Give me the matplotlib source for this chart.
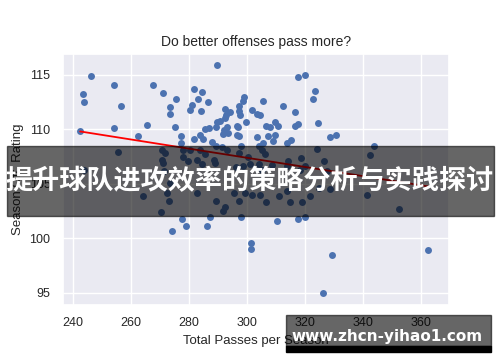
import numpy as np
import matplotlib
matplotlib.use("Agg")
import matplotlib.pyplot as plt
import seaborn as sns
from matplotlib.patches import Rectangle

# total passes per season vs offensive rating
passes = [242.4, 243.4, 243.9, 246.0, 254.2, 256.6, 254.0, 262.3, 265.3, 267.5,
          270.9, 273.2, 273.3, 275.3, 275.1, 277.3, 277.0, 281.5, 281.8, 280.2,
          280.8, 283.0, 284.4, 283.9, 286.6, 289.6, 283.7, 285.4, 286.8, 284.9,
          288.0, 289.1, 289.7, 289.3, 290.7, 292.3, 293.9, 292.5, 292.3, 292.1,
          293.0, 293.4, 291.8, 296.5, 296.9, 296.5, 297.1, 297.3, 297.3, 297.4,
          298.4, 298.7, 299.7, 297.9, 301.5, 303.3, 304.4, 305.4, 303.2, 304.0,
          305.4, 307.1, 306.4, 307.9, 309.5, 310.5, 309.6, 308.8, 312.3, 313.7,
          314.9, 316.6, 316.3, 317.6, 317.6, 320.0, 322.5, 323.3, 324.3, 328.5,
          330.6, 343.7, 324.1,
          255.3, 243.8, 270.7, 271.5, 270.7, 271.0, 271.4, 273.3, 272.4, 273.1,
          270.2, 264.1, 277.7, 277.7, 279.7, 280.2, 283.8, 285.3, 282.7, 284.4,
          288.4, 289.0, 291.3, 293.0, 297.0, 300.1, 305.1, 306.2, 298.5, 296.2,
          301.0, 303.9, 305.1, 308.5, 313.7, 313.9, 318.6, 318.3, 320.0, 326.5,
          327.5, 342.2, 282.7, 289.3, 291.8, 292.4, 295.3, 297.0, 299.3, 301.6,
          304.5, 306.6, 310.8, 313.7, 314.8, 318.9, 321.7, 328.6, 324.6, 341.3,
          352.2,
          274.0, 277.6, 279.0, 286.1, 287.2, 297.8, 310.2, 317.5, 320.0, 301.4,
          301.4, 329.1, 326.2, 362.2]
rating = [109.8, 113.2, 112.5, 114.9, 114.1, 112.1, 110.1, 109.4, 110.4, 114.1,
          113.3, 112.0, 111.4, 112.8, 110.2, 109.4, 108.7, 109.1, 113.7, 111.8,
          112.2, 112.8, 113.4, 111.7, 112.5, 115.9, 109.5, 110.0, 110.1, 109.1,
          108.8, 108.5, 110.7, 110.2, 110.8, 111.9, 111.6, 111.3, 111.0, 109.9,
          110.2, 109.7, 109.6, 110.3, 110.2, 109.5, 109.4, 112.1, 111.7, 111.3,
          112.6, 113.0, 110.7, 108.5, 111.8, 111.4, 111.3, 112.6, 109.3, 108.5,
          108.7, 109.4, 110.3, 110.2, 110.7, 110.3, 109.5, 108.9, 112.1, 108.7,
          109.0, 111.6, 110.3, 110.5, 114.8, 115.0, 112.8, 113.5, 110.6, 109.3,
          109.5, 108.5, 108.2,
          107.9, 106.3, 108.1, 107.8, 107.2, 106.9, 106.2, 105.1, 104.2, 103.4,
          102.4, 103.9, 108.1, 107.5, 107.1, 108.1, 108.1, 107.7, 107.2, 106.8,
          107.2, 106.9, 108.4, 108.1, 107.8, 107.5, 108.1, 107.7, 106.6, 106.5,
          106.8, 106.8, 106.3, 106.7, 106.6, 107.1, 107.4, 106.3, 106.6, 107.1,
          106.2, 107.6, 104.2, 103.4, 102.5, 102.9, 104.2, 103.4, 104.2, 104.0,
          104.0, 103.3, 103.9, 104.3, 103.3, 103.3, 103.9, 104.5, 104.6, 104.0,
          102.7,
          100.7, 101.8, 101.1, 101.1, 102.0, 102.0, 101.6, 101.8, 102.0, 99.6,
          99.0, 98.5, 95.0, 98.9]

# fitted trend line as it appears in the picture
fit_slope = -0.042
fit_intercept = 119.98

x_ticks = [240, 260, 280, 300, 320, 340, 360]
y_ticks = [95, 100, 105, 110, 115]
banner_text = "提升球队进攻效率的策略分析与实践探讨"
site_text = "www.zhcn-yihao1.com"

sns.set_theme(style="darkgrid")
plt.rcParams["font.family"] = ["Liberation Sans", "DejaVu Sans"]

fig = plt.figure(figsize=(5, 3.62), dpi=100)
ax = fig.add_axes([0.126, 0.1575, 0.772, 0.6935])

x = np.array(passes)
y = np.array(rating)
ax.scatter(x, y, s=25, color="#4C72B0", linewidths=0, zorder=3)

xs = np.array([x.min(), x.max()])
ax.plot(xs, fit_slope * xs + fit_intercept, color="red", lw=1.3, zorder=4)

ax.set_xlim(236.5, 369.5)
ax.set_ylim(93.9, 116.9)
ax.set_xticks(x_ticks)
ax.set_yticks(y_ticks)
ax.tick_params(labelsize=9, pad=3)
ax.set_title("Do better offenses pass more?", fontsize=10, pad=6)
ax.set_xlabel("Total Passes per Season", fontsize=9.5)
ax.set_ylabel("Season Off. Rating", fontsize=9.5)

# overlay banner
fig.patches.append(Rectangle((7 / 500, 1 - 216 / 362), 487 / 500, 70 / 362,
                             transform=fig.transFigure, color="black",
                             alpha=0.6, zorder=10))
fig.text(0.5, 1 - 181 / 362, banner_text, color="white", fontsize=19.5,
         fontweight="bold", ha="center", va="center", zorder=11,
         family=["Noto Sans CJK SC", "DejaVu Sans"])

# watermark
fig.patches.append(Rectangle((286 / 500, 1 - 346 / 362), 205 / 500, 31 / 362,
                             transform=fig.transFigure, color="black",
                             alpha=0.6, zorder=10))
fig.patches.append(Rectangle((286 / 500, 1 - 352 / 362), 205 / 500, 6 / 362,
                             transform=fig.transFigure, color="black",
                             zorder=10))
fig.text(387 / 500, 1 - 336 / 362, site_text, color="white", fontsize=11,
         fontweight="bold", ha="center", va="center", zorder=11,
         family=["DejaVu Sans"])

fig.savefig("out.png", dpi=100)
